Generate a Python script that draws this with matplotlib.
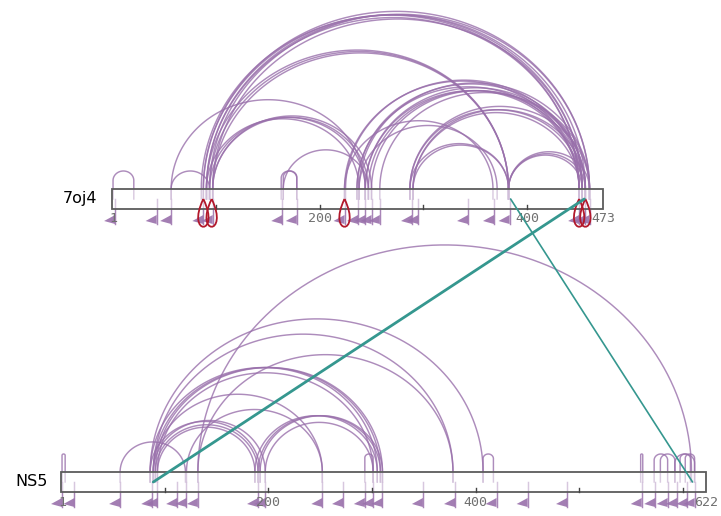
import numpy as np
import matplotlib.pyplot as plt
from matplotlib.patches import Rectangle, Polygon, PathPatch, ConnectionPatch
from matplotlib.path import Path

# --- dane: białka ---
top_name, top_len = "7oj4", 473
bot_name, bot_len = "NS5", 622

top_ticks = [1, 200, 400, 473]
bot_ticks = [1, 200, 400, 622]

# wiązania wewnątrz białka (reszta A, reszta B)
top_links = [
    (1, 21), (57, 94), (57, 244), (163, 178), (165, 178),
    (86, 450), (88, 453), (91, 456), (94, 460), (97, 453), (88, 460), (91, 450),
    (91, 382), (94, 382), (97, 382),
    (94, 244), (97, 247), (91, 238), (97, 250),
    (224, 450), (225, 453), (236, 456), (238, 460), (244, 450),
    (247, 453), (250, 456), (258, 460), (236, 450), (244, 456),
    (287, 453), (290, 456), (287, 460), (290, 450),
    (382, 453), (382, 456), (382, 460),
    (287, 382), (290, 382),
    (224, 367), (238, 371), (165, 247),
]
bot_links = [
    (1, 4), (57, 120),
    (86, 192), (89, 197), (91, 190), (93, 187),
    (187, 305), (190, 308), (192, 310), (197, 301),
    (86, 305), (89, 308), (91, 310), (93, 301),
    (89, 252), (121, 252),
    (132, 378), (89, 378), (86, 407), (132, 608),
    (293, 301), (407, 417),
    (559, 561), (572, 585), (578, 592), (592, 611), (597, 607), (602, 611),
]

# pozycje peptydów (trójkąty pod paskiem)
top_marks = [3, 43, 57, 88, 97, 164, 178, 224, 237, 244, 250, 258,
             289, 295, 343, 368, 383, 450, 456, 460]
bot_marks = [1, 13, 57, 88, 93, 112, 121, 132, 190, 197, 252, 272,
             293, 301, 310, 349, 380, 420, 450, 488,
             560, 573, 585, 594, 604, 611]

# homodimery (pętle)
top_loops = [88, 96, 224, 450, 456]
bot_loops = []

# wiązania między białkami (7oj4 -> NS5)
inter_top = [384, 455]
inter_bot = [609, 89]
inter_lw = [1.2, 2.0]

PURPLE = '#9970ab'
TEAL = '#35978f'
RED = '#b2182b'

W, H = 721, 516
fig = plt.figure(figsize=(W / 100, H / 100), dpi=100)


def protein_axes(row0, row1, bar_left, bar_right, bar_mid, length):
    k = (bar_right - bar_left) / length
    ax = fig.add_axes([0, 1 - row1 / H, 1, (row1 - row0) / H])
    ax.set_xlim(-bar_left / k, (W - bar_left) / k)
    ax.set_ylim(-(row1 - bar_mid) / k, (bar_mid - row0) / k)
    ax.axis('off')
    return ax, 1 / k


def draw_protein(ax, u, name, length, ticks, links, marks, loops, name_gap):
    hb = 10 * u
    ax.add_patch(Rectangle((0, -hb), length, 2 * hb, fc=(1, 1, 1, 0.55),
                           ec='#5c5c5c', lw=1.3, zorder=5))
    for t in range(100, length, 100):
        ax.plot([t, t], [-hb, -hb + 4 * u], color='#444444', lw=1, zorder=6)
    for v in ticks:
        ax.text(v, -hb - 10 * u, str(v), ha='center', va='center', fontsize=9.5,
                family='DejaVu Sans Mono', color='#707070', zorder=6)
    ax.text(-name_gap * u, 0, name, ha='right', va='center', fontsize=11.5)

    for a, b in links:
        a, b = min(a, b), max(a, b)
        r = (b - a) / 2
        c = (a + b) / 2
        base = hb + max(0, 18 * u - 0.92 * r)
        t = np.linspace(np.pi, 0, 100)
        xs = np.concatenate([[a], c + r * np.cos(t), [b]])
        ys = np.concatenate([[0], base + 0.92 * r * np.sin(t), [0]])
        ax.plot(xs, ys, color=PURPLE, lw=1.05, alpha=0.8, zorder=3)

    for m in marks:
        ax.plot([m, m], [0, -25 * u], color=PURPLE, lw=1.05, alpha=0.85, zorder=3)
        ax.add_patch(Polygon([(m, -16 * u), (m, -25 * u), (m - 11 * u, -22 * u)],
                             closed=True, fc=PURPLE, ec='none', alpha=0.9, zorder=3))

    for p in loops:
        verts = [(p, 0), (p - 18 * u, -37 * u), (p + 18 * u, -37 * u), (p, 0)]
        path = Path(verts, [Path.MOVETO, Path.CURVE4, Path.CURVE4, Path.CURVE4])
        ax.add_patch(PathPatch(path, fc='none', ec=RED, lw=1.3, zorder=7))


ax1, u1 = protein_axes(0, 260, 112, 603, 199, top_len)
ax2, u2 = protein_axes(230, 516, 61, 706, 482, bot_len)

draw_protein(ax1, u1, top_name, top_len, top_ticks, top_links, top_marks, top_loops, 15)
draw_protein(ax2, u2, bot_name, bot_len, bot_ticks, bot_links, bot_marks, bot_loops, 13)

for a, b, lw in zip(inter_top, inter_bot, inter_lw):
    con = ConnectionPatch(xyA=(a, 0), coordsA=ax1.transData,
                          xyB=(b, 0), coordsB=ax2.transData,
                          color=TEAL, lw=lw, zorder=8)
    fig.add_artist(con)

fig.savefig("out.png", dpi=100)
